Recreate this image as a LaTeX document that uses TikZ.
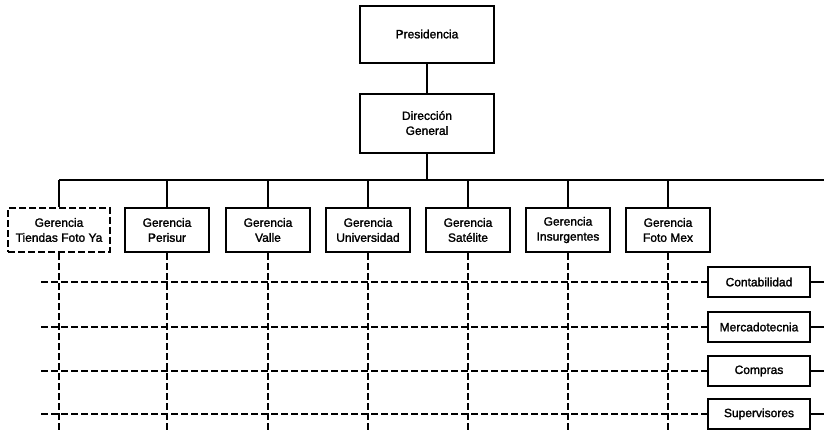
\documentclass[tikz,border=0pt]{standalone}
\usepackage{fontspec}
\setmainfont{Liberation Sans}[FakeBold=1.6]
\begin{document}
\begin{tikzpicture}[x=1pt,y=-1pt,
  unit/.style={draw, line width=2pt, inner sep=0pt, align=center,
    font=\fontsize{12}{15}\selectfont},
  topbox/.style={unit, minimum width=134pt, minimum height=57pt},
  gerbox/.style={unit, minimum width=84pt, minimum height=44pt},
  depbox/.style={unit, minimum width=102pt, minimum height=30pt},
  solidline/.style={line width=2pt},
  dashline/.style={line width=2pt, dash pattern=on 7pt off 3pt}]
\useasboundingbox (0,0) rectangle (824,429);
\fill[white] (0,0) rectangle (824,429);

% upper levels
\node[topbox] (pres) at (427,34) {Presidencia};
\node[topbox, minimum height=59pt] (dir) at (427,123) {Dirección\\General};
\draw[solidline] (pres) -- (dir);

% bus feeding the branch managers
\coordinate (busL) at (59,180);
\coordinate (busR) at (824,180);
\coordinate (busM) at (427,180);
\coordinate (floor) at (0,432);
\draw[solidline] (dir.south) -- (busM);
\draw[solidline] (busL) -- (busR);

% branch managers
\node[gerbox, minimum width=102pt, dashline] (g1) at (59,230) {Gerencia\\Tiendas Foto Ya};
\node[gerbox] (g2) at (167,230) {Gerencia\\Perisur};
\node[gerbox] (g3) at (268,230) {Gerencia\\Valle};
\node[gerbox] (g4) at (368,230) {Gerencia\\Universidad};
\node[gerbox] (g5) at (468,230) {Gerencia\\Satélite};
\node[gerbox] (g6) at (568,230) {Gerencia\\Insurgentes};
\node[gerbox] (g7) at (668,230) {Gerencia\\Foto Mex};

\foreach \g in {g1,g2,g3,g4,g5,g6,g7}{
  \draw[solidline] (\g.north |- busL) -- (\g.north);
  \draw[dashline] (\g.south) -- (\g.south |- floor);
}

% staff departments
\node[depbox] (d1) at (759,282) {Contabilidad};
\node[depbox] (d2) at (759,327) {Mercadotecnia};
\node[depbox] (d3) at (759,371) {Compras};
\node[depbox] (d4) at (759,414) {Supervisores};

\coordinate (leftend) at (41,0);
\coordinate (rightend) at (824,0);
\foreach \d in {d1,d2,d3,d4}{
  \draw[dashline] (leftend |- \d.west) -- (\d.west);
  \draw[solidline] (\d.east) -- (rightend |- \d.east);
}
\end{tikzpicture}
\end{document}
